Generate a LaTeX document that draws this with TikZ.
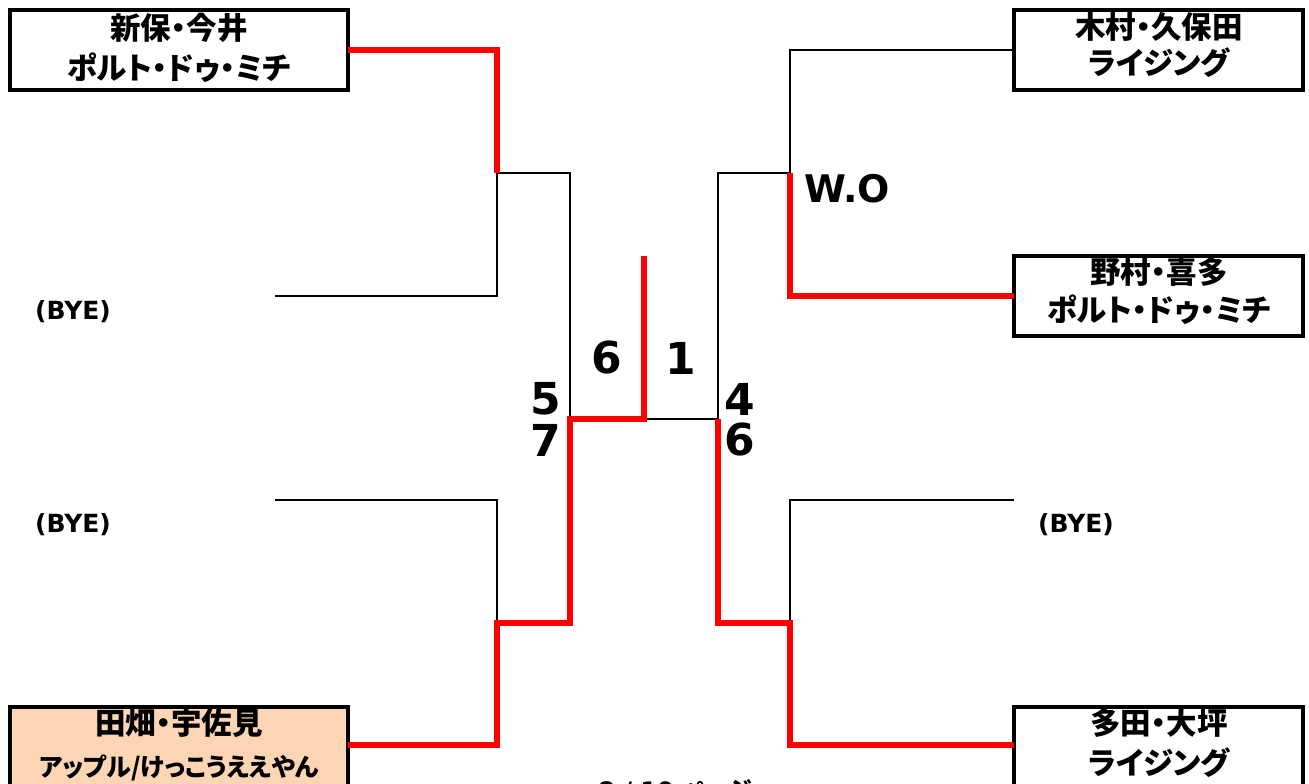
\documentclass[tikz,border=0pt]{standalone}
\usepackage{fontspec}
\setmainfont{DejaVu Sans}
\newfontfamily\jp[RawFeature=+palt]{Noto Sans CJK JP}
\definecolor{peach}{HTML}{FCD5B4}
\begin{document}
\begin{tikzpicture}[x=1pt,y=-1pt,
  teambox/.style={draw=black,line width=4pt,inner sep=0pt,outer sep=0pt,anchor=north west,minimum height=80pt},
  tname/.style={font=\jp\bfseries\fontsize{30.5}{30.5}\selectfont,inner sep=0pt},
  tsmall/.style={font=\jp\bfseries\fontsize{25}{25}\selectfont,inner sep=0pt},
  blk/.style={line width=2.5pt,black},
  win/.style={line width=6pt,red},
  score/.style={font=\bfseries\fontsize{44}{44}\selectfont,inner sep=0pt},
  bye/.style={font=\bfseries\fontsize{25}{25}\selectfont,inner sep=0pt}]
\useasboundingbox (0,0) rectangle (1309,784);
\clip (0,0) rectangle (1309,784);

% boxes (fill only first)
\node[teambox,draw=none,minimum width=338pt] (tl) at (10,10) {};
\node[teambox,draw=none,minimum width=289pt] (tr) at (1014,10) {};
\node[teambox,draw=none,minimum width=289pt] (mr) at (1014,256) {};
\node[teambox,draw=none,fill=peach,minimum width=338pt] (bl) at (10,707) {};
\node[teambox,draw=none,minimum width=289pt] (br) at (1014,707) {};

% texts
\node[tname] (tl1) at (179,28) {新保・今井};
\node[tname] (tl2) at (179,68) {ポルト・ドゥ・ミチ};
\node[tname] (tr1) at (1159,27) {木村・久保田};
\node[tname] (tr2) at (1159,63) {ライジング};
\node[tname] (mr1) at (1159,272) {野村・喜多};
\node[tname] (mr2) at (1159,310) {ポルト・ドゥ・ミチ};
\node[tname] (bl1) at (179,723) {田畑・宇佐見};
\node[tsmall] (bl2) at (179,768) {アップル/けっこうええやん};
\node[tname] (br1) at (1159,723) {多田・大坪};
\node[tname] (br2) at (1159,763) {ライジング};

% borders
\foreach \b in {tl,tr,mr,bl,br}{
  \draw[line width=4pt] (\b.north west) rectangle (\b.south east);
}

% byes
\node[bye] (bye1) at (73,312) {(BYE)};
\node[bye] (bye2) at (73,525) {(BYE)};
\node[bye] (bye3) at (1076,525) {(BYE)};

% junction coordinates
\coordinate (b1) at (275,296);
\coordinate (b2) at (275,500);
\coordinate (b3) at (1014,500);
\coordinate (a1) at (497,173);
\coordinate (a2) at (570,173);
\coordinate (c) at (570,419);
\coordinate (m) at (644,419);
\coordinate (mt) at (644,256);
\coordinate (d) at (718,419);
\coordinate (e1) at (718,173);
\coordinate (e2) at (790,173);

% black lines
\draw[blk] (b1) -- (497,296) -- (a1) -- (a2) -- (c);
\draw[blk] (b2) -- (497,500) -- (497,623);
\draw[blk] (m) -- (d) -- (e1) -- (e2) -- (790,50) -- (tr.west);
\draw[blk] (b3) -- (790,500) -- (790,623);

% red lines
\draw[win] (tl.east) -- (497,50) -- (a1);
\draw[win] (mt) -- (m) -- (c) -- (570,623) -- (497,623) -- (497,745) -- (bl.east |- 0,745);
\draw[win] (e2) -- (790,296) -- (mr.west);
\draw[win] (d) -- (718,623) -- (790,623) -- (790,745) -- (br.west |- 0,745);

% scores
\node[score] (s5) at (546,399) {5};
\node[score] (s7) at (546,440) {7};
\node[score] (s6) at (607,358) {6};
\node[score] (s1) at (681,358) {1};
\node[score] (s4) at (740,399) {4};
\node[score] (s6b) at (740,440) {6};
\node[font=\bfseries\fontsize{38}{38}\selectfont,inner sep=0pt] (wo) at (847,189) {W.O};

% page footer
\node[anchor=base west,inner sep=0pt,font=\bfseries\fontsize{24}{24}\selectfont] (pg) at (598,799) {8 / 10 {\jp ページ}};
\end{tikzpicture}
\end{document}
